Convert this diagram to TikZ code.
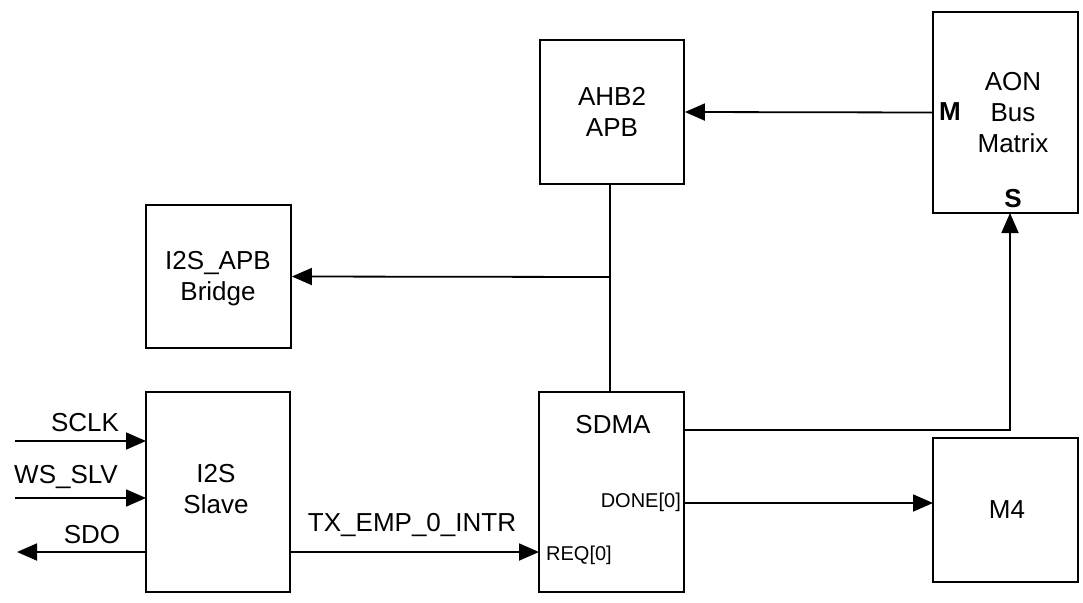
\documentclass[tikz,border=0pt]{standalone}
\usepackage{fontspec}
\setmainfont{Liberation Sans}
\usetikzlibrary{arrows.meta}
\begin{document}
\begin{tikzpicture}[x=1pt,y=-1pt,
  blk/.style={draw, line width=1.8pt, inner sep=0pt},
  lbl/.style={align=center, inner sep=0pt, font=\fontsize{26}{31}\selectfont},
  small/.style={inner sep=0pt, font=\fontsize{20}{24}\selectfont},
  wire/.style={line width=1.8pt},
  arr/.style={line width=1.8pt, -{Triangle[length=20pt,width=17pt]}}]
\useasboundingbox[fill=white] (0,0) rectangle (1083,602);
% blocks
\node[blk, minimum width=144pt, minimum height=144pt] (ahb) at (612,112) {};
\node[blk, minimum width=145pt, minimum height=201pt] (aon) at (1005.5,112.5) {};
\node[blk, minimum width=145pt, minimum height=143pt] (apb) at (218.5,276.5) {};
\node[blk, minimum width=144pt, minimum height=200pt] (i2s) at (218,492) {};
\node[blk, minimum width=145pt, minimum height=200pt] (sdma) at (611.5,492) {};
\node[blk, minimum width=145pt, minimum height=144pt] (m4) at (1005.5,510) {};
% texts
\node[lbl] (tahb) at (612,112) {AHB2\\APB};
\node[lbl] (taon) at (1013,113) {AON\\Bus\\Matrix};
\node[lbl, font=\fontsize{26}{31}\selectfont\bfseries] (tm) at (950,112) {M};
\node[lbl, font=\fontsize{26}{31}\selectfont\bfseries] (ts) at (1013,199) {S};
\node[lbl] (tapb) at (218,279) {I2S\_APB\\Bridge};
\node[lbl] (ti2s) at (216,489) {I2S\\Slave};
\node[lbl] (tsdma) at (613,425) {SDMA};
\node[small, anchor=east] (tdone) at (681,502) {DONE[0]};
\node[small, anchor=west] (treq) at (546,555) {REQ[0]};
\node[lbl] (tm4) at (1007,510) {M4};
\node[lbl] (tsclk) at (85,423) {SCLK};
\node[lbl] (tws) at (66,477) {WS\_SLV};
\node[lbl] (tsdo) at (92,535) {SDO};
\node[lbl] (ttx) at (412,525) {TX\_EMP\_0\_INTR};
% coordinates
\coordinate (j) at (610,277);
\coordinate (s1) at (684,430);
\coordinate (s2) at (1010,430);
\coordinate (aons) at (1010,213);
\coordinate (d1) at (684,503);
\coordinate (d2) at (933,503);
\coordinate (r1) at (290,552);
\coordinate (r2) at (539,552);
\coordinate (c1) at (15,441);
\coordinate (c2) at (146,441);
\coordinate (w1) at (15,498);
\coordinate (w2) at (146,498);
\coordinate (o1) at (146,552);
\coordinate (o2) at (17,552);
% connectors
\draw[arr] (aon.west) -- (ahb.east);
\draw[wire] (ahb.south -| j) -- (sdma.north -| j);
\draw[arr] (j) -- (apb.east);
\draw[arr] (s1) -- (s2) -- (aons);
\draw[arr] (d1) -- (d2);
\draw[arr] (r1) -- (r2);
\draw[arr] (c1) -- (c2);
\draw[arr] (w1) -- (w2);
\draw[arr] (o1) -- (o2);
\end{tikzpicture}
\end{document}
